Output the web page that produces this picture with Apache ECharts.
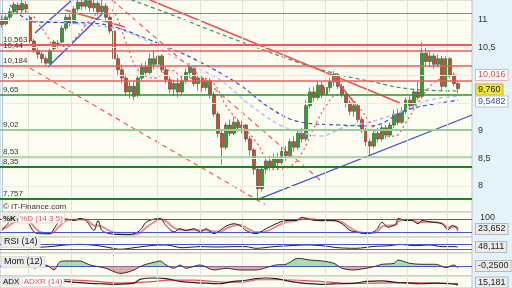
<!DOCTYPE html>
<html><head><meta charset="utf-8">
<script src="https://cdn.jsdelivr.net/npm/echarts@6/dist/echarts.min.js"></script>
<style>html,body{margin:0;padding:0;background:#e3f2fb}#c{width:512px;height:288px}</style>
</head><body><div id="c"></div>
<script>
// ---------- DATA ----------
const N = 118;
const opens  = [11.00,10.93,11.05,11.15,11.27,11.18,11.28,11.05,10.62,10.45,10.38,10.30,10.22,10.48,10.58,10.60,10.85,11.05,10.95,11.20,11.32,11.25,11.35,11.22,11.30,11.15,11.25,11.05,10.80,10.30,10.10,9.95,9.70,9.80,9.65,9.95,10.15,10.05,10.30,10.20,10.35,10.10,9.92,9.75,9.85,9.70,9.90,10.05,10.12,9.85,9.95,9.78,9.90,9.65,9.30,8.95,8.70,9.10,8.95,9.15,9.05,9.10,8.85,8.65,8.30,7.95,8.30,8.45,8.35,8.50,8.42,8.62,8.55,8.80,8.70,8.95,8.85,9.45,9.70,9.60,9.82,9.65,9.78,9.88,10.00,9.80,9.65,9.50,9.35,9.45,9.20,9.00,8.80,8.72,8.95,8.85,9.05,8.92,9.10,9.30,9.15,9.35,9.55,9.45,9.70,9.62,10.40,10.25,10.35,10.20,10.30,9.80,10.30,10.00,9.85];
const closes = [10.92,11.05,11.15,11.28,11.18,11.30,11.20,10.62,10.45,10.38,10.30,10.22,10.45,10.60,10.55,10.85,11.05,10.95,11.20,11.32,11.25,11.35,11.22,11.30,11.15,11.25,11.05,10.80,10.30,10.10,9.95,9.70,9.80,9.62,9.95,10.15,10.05,10.30,10.20,10.35,10.10,9.92,9.75,9.85,9.70,9.90,10.05,10.15,9.85,9.95,9.78,9.90,9.65,9.30,8.95,8.70,9.10,8.95,9.15,9.05,9.10,8.85,8.65,8.30,7.95,8.30,8.45,8.35,8.50,8.42,8.62,8.55,8.80,8.70,8.95,8.85,9.45,9.70,9.60,9.82,9.65,9.78,9.88,10.02,9.80,9.65,9.50,9.35,9.45,9.20,9.00,8.80,8.72,8.95,8.85,9.05,8.92,9.10,9.30,9.15,9.35,9.55,9.45,9.70,9.60,10.40,10.25,10.35,10.20,10.30,9.80,10.30,10.00,9.85,9.76];
const lows   = [10.86,10.90,11.00,11.10,11.12,11.15,11.12,10.58,10.40,10.30,10.22,10.18,10.20,10.44,10.50,10.58,10.80,10.88,10.92,11.15,11.18,11.20,11.15,11.15,11.08,11.10,11.00,10.75,10.22,10.00,9.85,9.62,9.58,9.55,9.60,9.90,9.98,10.02,10.10,10.15,10.05,9.85,9.68,9.62,9.60,9.65,9.85,9.95,9.80,9.72,9.70,9.72,9.58,9.25,8.88,8.38,8.65,8.90,8.92,8.98,8.95,8.80,8.55,8.20,7.757,7.90,8.22,8.28,8.30,8.30,8.38,8.45,8.50,8.62,8.65,8.78,8.80,9.40,9.52,9.55,9.58,9.55,9.70,9.80,9.75,9.60,9.42,9.28,9.25,9.15,8.95,8.72,8.56,8.68,8.78,8.80,8.85,8.88,9.05,9.10,9.12,9.30,9.38,9.40,9.55,9.58,10.18,10.15,10.12,10.15,9.72,9.78,9.95,9.80,9.68];
const highs  = [11.08,11.10,11.22,11.33,11.32,11.36,11.34,11.08,10.66,10.50,10.42,10.36,10.48,10.64,10.64,10.90,11.10,11.12,11.25,11.40,11.40,11.42,11.40,11.38,11.34,11.36,11.30,11.10,10.85,10.38,10.20,10.02,9.88,9.90,10.00,10.22,10.25,10.40,10.46,10.42,10.38,10.15,9.98,9.92,9.95,9.98,10.12,10.22,10.18,10.00,10.00,9.95,9.95,9.70,9.35,9.00,9.15,9.20,9.25,9.22,9.18,9.12,8.90,8.68,8.35,8.35,8.52,8.55,8.58,8.60,8.70,8.72,8.85,8.90,9.00,9.05,9.55,9.78,9.80,9.90,9.88,9.85,9.95,10.08,10.04,9.85,9.70,9.55,9.50,9.48,9.25,9.05,8.85,9.00,9.05,9.10,9.10,9.15,9.38,9.40,9.42,9.60,9.62,9.75,9.88,10.60,10.50,10.45,10.40,10.38,10.35,10.35,10.33,10.05,9.90];

const resistanceLevels = [11.12, 10.563, 10.44, 10.184, 9.9];
const supportLevels    = [9.65, 9.02, 8.53, 8.35, 7.757];
const priceTicks = [8, 8.5, 9, 10.5, 11];
const faintLevels = [8, 8.5, 9, 9.5, 10, 10.5, 11];
const dateGridIdx = [6.5, 17.25, 27.75, 38.75, 49.5, 60, 70.25, 80.75, 91.25, 101.25, 111.25];

// moving averages (bar index, price)
const maLongIdx = [29, 41.25, 52, 62, 74.5, 83.75, 92.75, 102, 114];
const maLongVal = [11.45, 11.127, 10.819, 10.548, 10.222, 10.024, 9.879, 9.752, 9.716];
const maMidIdx = [2, 8.25, 22, 28.25, 37, 42, 49.5, 59.5, 67, 74.5, 84.5, 92, 101.25, 109.5, 114];
const maMidVal = [11.271, 10.964, 10.946, 10.873, 10.638, 10.494, 10.241, 9.825, 9.409, 9.156, 9.101, 9.083, 9.373, 9.499, 9.5482];
const maLightIdx = [4.5, 22, 32, 44.5, 54.5, 62, 69.5, 74.5, 79.5, 85.75, 92, 99.5, 107, 114];
const maLightVal = [11.0, 10.91, 10.765, 10.277, 9.915, 9.463, 9.101, 8.975, 8.902, 9.065, 9.156, 9.336, 9.553, 9.626];
const maShortIdx = [0, 6, 10, 14, 18, 22, 26, 28, 31, 34, 38, 42, 46, 50, 53, 56, 60, 64, 68, 72, 75, 78, 81, 84, 87, 89, 92, 95, 98, 101, 104, 107, 110, 114];
const maShortVal = [11.0, 11.15, 10.85, 10.5, 10.65, 11.0, 11.2, 11.15, 10.6, 10.1, 9.95, 10.1, 9.95, 9.95, 9.85, 9.45, 9.1, 8.75, 8.3, 8.35, 8.6, 9.05, 9.45, 9.65, 9.6, 9.45, 9.15, 8.9, 8.9, 9.15, 9.5, 9.8, 9.95, 10.016];

// trend lines: [startIdx, startPrice, endIdx, endPrice]
const redSolidTrends = [[37, 11.362, 99.5, 9.499], [82.75, 9.987, 88.5, 9.463], [15.75, 11.181, 30.75, 10.873]];
const redDashedTrends = [[7, 10.128, 65.75, 7.664], [27.5, 11.362, 79.5, 8.107]];
const blueTrends = [[8.25, 10.765, 17.5, 11.362], [11.5, 10.15, 25.25, 11.127], [64, 7.757, 117.5, 9.282]];

// indicators
const stochIdx = [0,1,3,6,8,9.5,12,13,14.5,16,18,19.5,21,23,24,25,27,29.5,32,34.5,36,38,39.5,41,43,44.5,46,48,49.5,51,53,54.5,56,58,59.5,61,63.5,66,68.5,71,73.5,75,76.5,78.5,80,83,85,87,88.5,91,93.5,95,96.5,98.5,99,101,102.5,104,105,107.5,110,111.5,112.5,113.5,114];
const stochK = [27,50,80,73,20,12,12,35,73,80,73,83,73,27,73,27,12,8,8,27,65,80,83,50,20,35,27,35,20,35,12,27,47,58,50,27,12,35,58,73,73,88,80,73,73,73,58,27,20,12,27,65,42,58,83,73,73,58,73,65,58,30,50,42,23.652];
const stochD = [35,40,65,78,45,20,12,20,50,72,77,78,78,50,50,45,25,12,8,15,40,65,80,70,40,30,28,30,28,28,22,20,35,50,52,40,20,22,45,65,72,80,82,77,73,73,65,40,25,15,18,45,50,52,68,75,75,65,65,67,60,42,42,45,35];
const rsiIdx = [7,12,16,19.5,24,27,29.5,33,37,41,45,49.5,54,58,61,63.5,68,72,76,80,84,88.5,93,97,99.5,103,107,110,113.5,114];
const rsiVal = [44,53,67,72,61,44,31,44,61,67,44,53,50,53,53,39,53,61,67,61,44,39,55,61,72,61,67,53,53,48.111];
const momIdx = [8,11,13,14.5,16,19.5,20.5,22,24,26,28,29.5,31,33,34.5,36,38,39.5,41,43,44.5,46,49.5,53,56,59.5,63.5,66,68.5,71,74,77,80,83,85,88,90,93,95,98,99,102,105,108.5,111,113,114];
const momVal = [-0.27,0.12,-0.47,0.51,0.59,0.59,0.43,0.12,-0.08,-0.27,-0.67,-0.86,-0.78,-0.47,-0.08,0.2,0.43,0.59,0.12,-0.27,0.12,-0.27,0.12,-0.47,-0.27,-0.47,-0.47,-0.2,0.12,0.2,0.9,0.7,0.59,0.31,-0.27,-0.47,-0.35,-0.08,0.2,0.31,0.7,0.31,0.2,0.2,-0.2,0.12,-0.25];
const adxIdx = [13,16,21,24.5,28,33,34.5,38,41,44.5,48,51,54.5,58,61,63.5,66,68.5,72,75,80,84,88.5,91,95,98.5,102,105,108.5,112,113.5,114];
const adxVal = [26.7,23.9,19.7,18.3,16.9,19.7,28.8,32.2,30.8,23.9,21.1,19.7,18.3,23.9,26.7,30.8,32.2,30.8,23.9,19.7,16.9,18.3,19.7,23.9,25.3,21.8,19.7,18.3,19.7,18.3,16.9,15.181];
const adxrIdx = [13,22,30,36,42,48,54,60,64,70,76,82,88,94,100,108,114];
const adxrVal = [30,25,20,22,27,27,23,22,28,28,26,22,19,20,21,20,18.5];

// ---------- BUILD ----------
const FONT = 'Liberation Sans, Arial, sans-serif';
const cats = Array.from({length: N}, (_, i) => String(i));
const candleData = opens.map((o, i) => [o, closes[i], lows[i], highs[i]]);
const pairs = (xs, ys) => xs.map((x, i) => [x, ys[i]]);
const fmt = v => String(v).replace('.', ',');

const gridBoxes = [[0, 212], [212, 25], [237, 16], [253, 23], [276, 14]];
const grids = gridBoxes.map(([t, h]) => ({left: 0, width: 472, top: t, height: h, show: true,
  backgroundColor: '#fcfcf1', borderColor: '#c2c2c2', borderWidth: 1}));

const xAxes = [{type: 'category', gridIndex: 0, data: cats, show: false, boundaryGap: true}];
gridBoxes.forEach((_, g) => xAxes.push({type: 'value', gridIndex: g, min: -0.5, max: 117.5, show: false}));

const yAxes = [
  {type: 'value', gridIndex: 0, position: 'right', min: 7.528, max: 11.3617,
   axisLine: {show: true, lineStyle: {color: '#9fcbe3'}},
   axisTick: {show: true, length: 3, customValues: priceTicks, lineStyle: {color: '#555'}},
   axisLabel: {customValues: priceTicks, formatter: fmt, color: '#333', fontSize: 9, fontFamily: FONT, margin: 6},
   splitLine: {show: false}},
  {type: 'value', gridIndex: 1, min: -3.2, max: 112.5, show: false},
  {type: 'value', gridIndex: 2, min: 0, max: 133.3, show: false},
  {type: 'value', gridIndex: 3, min: -1.176, max: 1.529, show: false},
  {type: 'value', gridIndex: 4, min: 7.92, max: 37.08, show: false}
];

const series = [];
gridBoxes.forEach((_, g) => series.push({type: 'line', xAxisIndex: g + 1, yAxisIndex: g, data: [], z: 1, silent: true,
  markLine: {silent: true, symbol: 'none', animation: false, label: {show: false},
    lineStyle: {color: '#e3e3d6', width: 1, type: 'solid'}, data: dateGridIdx.map(v => ({xAxis: v}))}}));
series.push({type: 'line', xAxisIndex: 1, yAxisIndex: 0, data: [], z: 1, silent: true,
  markLine: {silent: true, symbol: 'none', label: {show: false},
    lineStyle: {color: '#ebebdf', width: 1, type: 'solid'}, data: faintLevels.map(v => ({yAxis: v}))}});

const supStyle = [['#2f8f2f', 1.5], ['#93cf93', 2], ['#93cf93', 1.5], ['#237f23', 2], ['#237f23', 2]];
const levelData = [];
resistanceLevels.forEach((v, i) => levelData.push({yAxis: v,
  lineStyle: {color: '#f05a5a', width: i === 0 ? 1.2 : (i === 1 ? 2 : 1.5), type: 'solid'},
  label: {show: i > 0, formatter: fmt(v)}}));
supportLevels.forEach((v, i) => levelData.push({yAxis: v,
  lineStyle: {color: supStyle[i][0], width: supStyle[i][1], type: 'solid'},
  label: {show: true, formatter: fmt(v)}}));
series.push({type: 'line', xAxisIndex: 1, yAxisIndex: 0, data: [], z: 2, silent: true,
  markLine: {silent: true, symbol: 'none',
    label: {position: 'insideStartTop', color: '#333', fontSize: 8, fontFamily: FONT, distance: [3, 1]},
    data: levelData}});

series.push({type: 'candlestick', xAxisIndex: 0, yAxisIndex: 0, data: candleData, barWidth: 3, z: 3,
  itemStyle: {color: '#22a822', color0: '#d4452a', borderColor: '#555', borderColor0: '#555', borderWidth: 0.7}});

const lineS = (x, y, data, color, width, type, smooth, z) => ({type: 'line', xAxisIndex: x, yAxisIndex: y, data,
  symbol: 'none', smooth: smooth || false, z: z || 4, silent: true, clip: true,
  lineStyle: {color, width, type: type || 'solid'}});

series.push(lineS(1, 0, pairs(maLightIdx, maLightVal), '#b9c1f5', 1.5, [4, 3], 0.4));
series.push(lineS(1, 0, pairs(maLongIdx, maLongVal), '#3f8f5f', 1.2, [4, 3], 0.4));
series.push(lineS(1, 0, pairs(maMidIdx, maMidVal), '#3b4fcb', 1.2, [4, 3], 0.4));
series.push(lineS(1, 0, pairs(maShortIdx, maShortVal), '#f04a4a', 1.2, [2, 3], 0.4));
redSolidTrends.forEach(t => series.push(lineS(1, 0, [[t[0], t[1]], [t[2], t[3]]], '#f05050', 1.5)));
redDashedTrends.forEach(t => series.push(lineS(1, 0, [[t[0], t[1]], [t[2], t[3]]], '#f05a5a', 1.2, [5, 4])));
blueTrends.forEach(t => series.push(lineS(1, 0, [[t[0], t[1]], [t[2], t[3]]], '#4050d0', 1.3)));

// stochastic
series.push({type: 'line', xAxisIndex: 2, yAxisIndex: 1, data: [], silent: true,
  markLine: {silent: true, symbol: 'none', label: {show: false}, lineStyle: {color: '#4455dd', width: 1, type: 'solid'},
    data: [{yAxis: 80}, {yAxis: 20}]}});
series.push(lineS(2, 1, pairs(stochIdx, stochD), '#f08a8a', 2, 'solid', 0.3));
series.push(lineS(2, 1, pairs(stochIdx, stochK), '#222', 1, 'solid', 0.3));
// RSI
series.push({type: 'line', xAxisIndex: 3, yAxisIndex: 2, data: [], silent: true,
  markLine: {silent: true, symbol: 'none', label: {show: false},
    data: [{yAxis: 70, lineStyle: {color: '#4455dd', width: 1, type: 'solid'}},
           {yAxis: 30, lineStyle: {color: '#e83030', width: 1.2, type: 'solid'}}]}});
series.push(lineS(3, 2, pairs(rsiIdx, rsiVal), '#222', 1, 'solid', 0.3));
// Momentum
series.push({type: 'line', xAxisIndex: 4, yAxisIndex: 3, data: [], silent: true,
  markLine: {silent: true, symbol: 'none', label: {show: false}, lineStyle: {color: '#4455dd', width: 1, type: 'solid'},
    data: [{yAxis: 0}]}});
const momSeries = lineS(4, 3, pairs(momIdx, momVal), '#333', 1, 'solid', 0.3, 5);
momSeries.areaStyle = {opacity: 0.6};
series.push(momSeries);
const momIndex = series.length - 1;
// ADX
series.push(lineS(5, 4, pairs(adxrIdx, adxrVal), '#e85050', 1.2, 'solid', 0.3));
series.push(lineS(5, 4, pairs(adxIdx, adxVal), '#222', 1.2, 'solid', 0.3));

// ---------- TEXT ----------
const box = (x, yc, text, color, bg, border) => ({type: 'text', x, y: yc, z: 100,
  style: {text, fill: color, font: '9px ' + FONT, verticalAlign: 'middle', backgroundColor: bg,
    borderColor: border, borderWidth: bg ? 1 : 0, padding: [1, 2, 0, 2]}});
const graphic = [
  {type: 'text', x: 3, y: 207, z: 100, style: {text: '© IT-Finance.com', fill: '#333', font: '8px ' + FONT, verticalAlign: 'middle'}},
  box(476, 75, '10,016', '#e04848', '#ffffff', '#e6b4b4'),
  box(476, 89.5, '9,760', '#222', '#f2e23c', '#c9b834'),
  box(476, 101.5, '9,5482', '#3a48c0', '#ffffff', '#b6bde4'),
  box(478, 218, '100', '#333'),
  box(476, 229, '23,652', '#222', '#ececec', '#b8b8b8'),
  box(476, 247, '48,111', '#222', '#ececec', '#b8b8b8'),
  box(476, 266, '-0,2500', '#222', '#ececec', '#b8b8b8'),
  box(476, 282.5, '15,181', '#222', '#ececec', '#b8b8b8'),
  {type: 'text', x: 2, y: 218, z: 100, style: {verticalAlign: 'middle', font: '8px ' + FONT,
    text: '{a|%K} {b|%D (14 3 5)}', rich: {
      a: {fill: '#111', backgroundColor: '#e4e4e4', padding: [1, 1, 0, 1], font: 'bold 8px ' + FONT},
      b: {fill: '#e05050', backgroundColor: '#ffffff', borderColor: '#ddd', borderWidth: 1, padding: [1, 1, 0, 1], font: '8px ' + FONT}}}},
  box(2, 242, 'RSI (14)', '#111', '#ececec', '#dddddd'),
  box(2, 262, 'Mom (12)', '#111', '#ececec', '#dddddd'),
  {type: 'text', x: 2, y: 281.5, z: 100, style: {verticalAlign: 'middle', font: '8px ' + FONT,
    text: '{a|ADX} {b|ADXR (14)}', rich: {
      a: {fill: '#111', backgroundColor: '#e4e4e4', padding: [1, 1, 0, 1], font: '8px ' + FONT},
      b: {fill: '#e05050', backgroundColor: '#ffffff', borderColor: '#ddd', borderWidth: 1, padding: [1, 1, 0, 1], font: '8px ' + FONT}}}}
];

const chart = echarts.init(document.getElementById('c'), null, {renderer: 'canvas', width: 512, height: 288});
chart.setOption({
  animation: false,
  backgroundColor: '#e3f2fb',
  grid: grids,
  xAxis: xAxes,
  yAxis: yAxes,
  visualMap: [{type: 'piecewise', show: false, seriesIndex: momIndex, dimension: 1,
    pieces: [{min: 0, max: 5, color: '#7cc47c'}, {min: -5, max: 0, color: '#c9776a'}]}],
  series,
  graphic
});
</script></body></html>
